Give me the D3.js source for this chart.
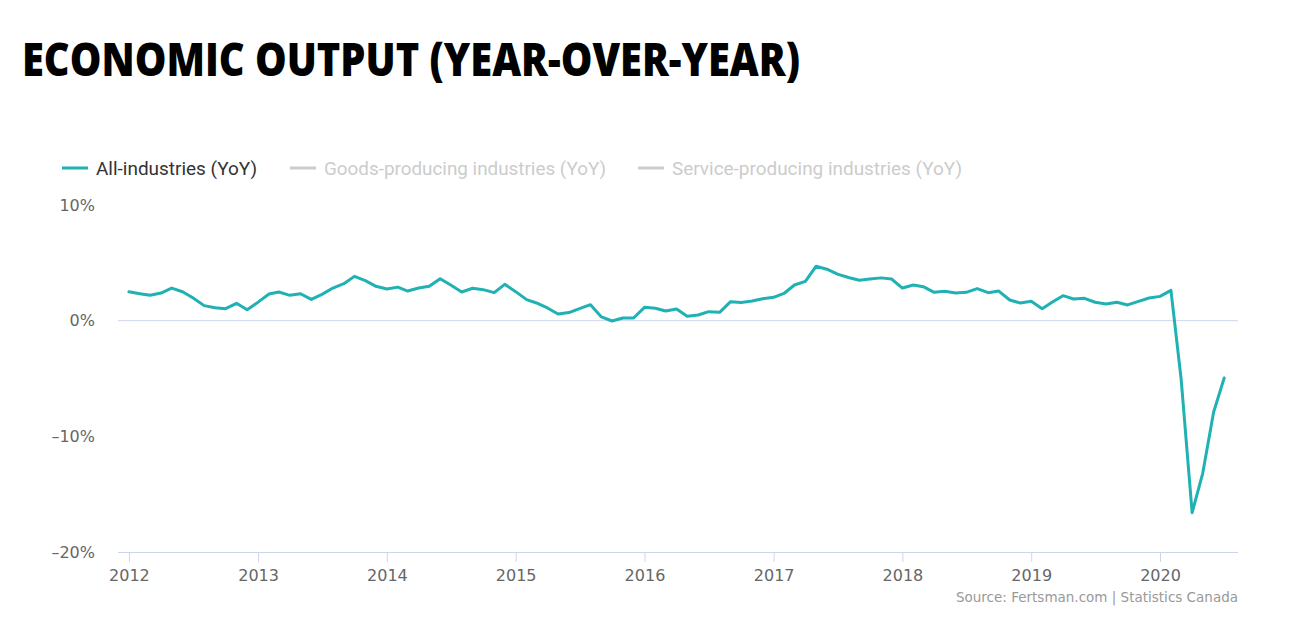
<!DOCTYPE html>
<html>
<head>
<meta charset="utf-8">
<script src="https://cdn.jsdelivr.net/npm/d3@7"></script>
<style>
  html, body { margin: 0; padding: 0; background: #fff; }
  svg { display: block; }
</style>
</head>
<body>
<svg id="chart" width="1300" height="634"></svg>
<script>
// ---- Data (monthly YoY %, Jan 2012 – Jul 2020) ----
const startYear = 2012;
const allIndustries = [
  2.5, 2.33, 2.19, 2.39, 2.82, 2.5, 1.96, 1.3, 1.12, 1.04, 1.5, 0.95,
  1.6, 2.3, 2.48, 2.19, 2.33, 1.84, 2.27, 2.82, 3.2, 3.83, 3.46, 2.97,
  2.74, 2.9, 2.56, 2.82, 2.97, 3.63, 3.08, 2.48, 2.8, 2.68, 2.42, 3.14,
  2.51, 1.82, 1.53, 1.1, 0.58, 0.7, 1.04, 1.38, 0.32, -0.03, 0.23, 0.23,
  1.15, 1.07, 0.84, 1.0, 0.38, 0.49, 0.78, 0.72, 1.64, 1.58, 1.7, 1.9,
  2.02, 2.39, 3.08, 3.4, 4.7, 4.45, 4.02, 3.73, 3.5, 3.6, 3.7, 3.6,
  2.82, 3.08, 2.94, 2.45, 2.54, 2.39, 2.45, 2.77, 2.42, 2.56, 1.79, 1.53,
  1.67, 1.04, 1.59, 2.16, 1.87, 1.93, 1.59, 1.44, 1.59, 1.36, 1.67, 1.96,
  2.1, 2.62, -5.1, -16.6, -13.2, -7.9, -4.95
];
const legendNames = ["All-industries (YoY)", "Goods-producing industries (YoY)", "Service-producing industries (YoY)"];
const legendActive = [true, false, false];
const yTicks = [-20, -10, 0, 10];
const xTickYears = [2012, 2013, 2014, 2015, 2016, 2017, 2018, 2019, 2020];
const titleText = "ECONOMIC OUTPUT (YEAR-OVER-YEAR)";
const sourceText = "Source: Fertsman.com | Statistics Canada";

// ---- Layout ----
const svg = d3.select("#chart");
const plot = { left: 118, right: 1238, top: 205, bottom: 552 };
const lineColor = "#1fb1b4";
const gridColor = "#ccd6eb";
const labelFont = "'DejaVu Sans', Verdana, sans-serif";

const data = allIndustries.map((v, i) => ({ date: new Date(startYear, i, 1), value: v }));

const x = d3.scaleTime()
  .domain([new Date(2011, 11, 1), new Date(2020, 7, 9)])
  .range([plot.left, plot.right]);
const y = d3.scaleLinear()
  .domain([-20, 10])
  .range([plot.bottom, plot.top]);

// Title
svg.append("text")
  .attr("x", 22).attr("y", 76)
  .attr("font-family", "'Open Sans', sans-serif")
  .attr("font-weight", 800)
  .attr("font-size", 46)
  .attr("fill", "#000")
  .attr("textLength", 778)
  .attr("lengthAdjust", "spacingAndGlyphs")
  .text(titleText);

// Legend
const legendX = [62, 290, 638];
const legendTextLen = [161, 282, 290];
legendNames.forEach((name, i) => {
  const g = svg.append("g").attr("transform", `translate(${legendX[i]},168)`);
  g.append("line")
    .attr("x1", 0).attr("x2", 26).attr("y1", 0).attr("y2", 0)
    .attr("stroke", legendActive[i] ? lineColor : "#cccccc")
    .attr("stroke-width", 3);
  g.append("text")
    .attr("x", 34).attr("y", 6.5)
    .attr("font-family", "Roboto, sans-serif")
    .attr("font-size", 18.5)
    .attr("fill", legendActive[i] ? "#333333" : "#cccccc")
    .attr("textLength", legendTextLen[i])
    .attr("lengthAdjust", "spacingAndGlyphs")
    .text(name);
});

// Zero plot line
svg.append("line")
  .attr("x1", plot.left).attr("x2", plot.right)
  .attr("y1", y(0)).attr("y2", y(0))
  .attr("stroke", gridColor).attr("stroke-width", 1);

// Y axis labels
const yAxis = d3.axisLeft(y)
  .tickValues(yTicks)
  .tickSize(0)
  .tickPadding(0)
  .tickFormat(d => (d < 0 ? "\u2013" + Math.abs(d) : d) + "%");
const yg = svg.append("g").attr("transform", "translate(95,0)").call(yAxis);
yg.select(".domain").remove();
yg.selectAll("text")
  .attr("font-family", labelFont)
  .attr("font-size", 16)
  .attr("fill", "#666666");

// X axis
const xAxis = d3.axisBottom(x)
  .tickValues(xTickYears.map(yy => new Date(yy, 0, 1)))
  .tickSize(10)
  .tickPadding(8)
  .tickFormat(d3.timeFormat("%Y"));
const xg = svg.append("g").attr("transform", `translate(0,${plot.bottom})`).call(xAxis);
xg.select(".domain")
  .attr("d", `M${plot.left},0.5H${plot.right}`)
  .attr("stroke", gridColor);
xg.selectAll(".tick line").attr("stroke", gridColor);
xg.selectAll("text")
  .attr("font-family", labelFont)
  .attr("font-size", 16)
  .attr("fill", "#666666");

// Line
const line = d3.line()
  .x(d => x(d.date))
  .y(d => y(d.value));
svg.append("path")
  .datum(data)
  .attr("fill", "none")
  .attr("stroke", lineColor)
  .attr("stroke-width", 3)
  .attr("stroke-linejoin", "round")
  .attr("stroke-linecap", "round")
  .attr("d", line);

// Source credit
svg.append("text")
  .attr("x", 1238).attr("y", 602)
  .attr("text-anchor", "end")
  .attr("font-family", labelFont)
  .attr("font-size", 13.5)
  .attr("fill", "#999999")
  .text(sourceText);
</script>
</body>
</html>
